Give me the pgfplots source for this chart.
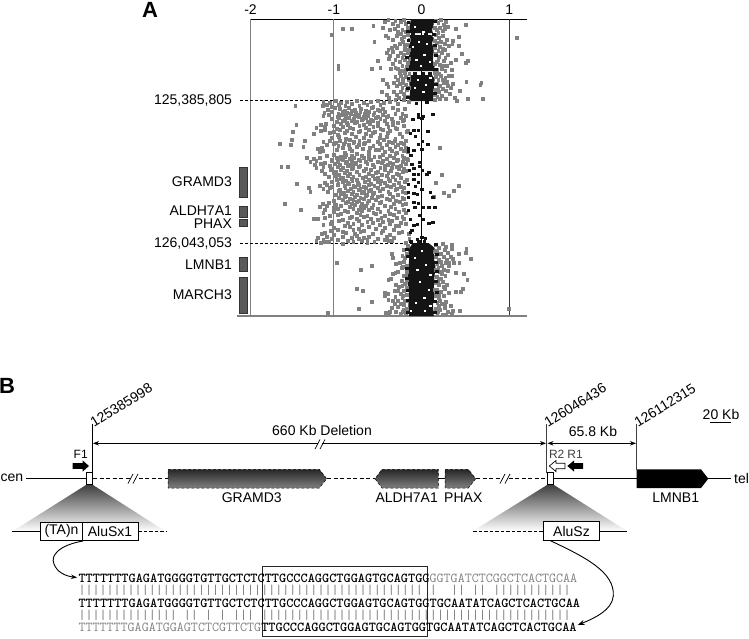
\documentclass[border=0pt]{standalone}
\usepackage{fontspec}
\setmainfont{Liberation Sans}
\usepackage{pgfplots}
\pgfplotsset{compat=1.18}
\usetikzlibrary{arrows.meta}
\newcommand\ft{\fontsize{14}{16}\selectfont}
\newcommand\fs{\fontsize{12}{14}\selectfont}
\newcommand\fq{\ttfamily\fontsize{13.65}{15}\selectfont}
\definecolor{ptgray}{gray}{0.5}
\begin{document}
\begin{tikzpicture}[x=1pt,y=1pt]
\path[use as bounding box] (0,0) rectangle (749pt,638pt);
\begin{axis}[at={(250.5pt,322pt)},anchor=south west,scale only axis,width=276.5pt,height=297pt,
 xmin=-1.95,xmax=1.203,ymin=19,ymax=316,y dir=reverse,clip=false,
 axis x line*=top,axis y line=none,xtick={-1.95,-1,0,1},xticklabels={-2,-1,0,1},
 xticklabel style={font=\ft,yshift=1pt},tick style={draw=none},major tick length=0pt,
 axis line style={black,line width=.8pt}]
% grey points: flanks above the deletion
\addplot[only marks,mark=square*,mark size=1.4pt,color=ptgray,mark options={draw=none}] coordinates {
(-1.02,35)(-.90,29)(-.80,29)(-.95,66)(-.95,69)(1.09,38)(-.54,42)(-.55,26)(-.57,69)(-.47,68)(-.50,61)(.50,25)(.39,29)(.42,37)(.36,41)(.42,46)(.46,54)(.53,61)(.50,63)(.39,60)(.34,70)(.35,76)(.36,84)(.51,82)(.68,83)(.67,85)(.53,99)(.70,99)(.44,91)(.38,98)(.40,101)
(-.42,22)(-.38,20)(-.33,24)(-.30,21)(-.27,26)(-.24,22)(-.20,20)(-.18,24)(-.16,28)(-.44,28)(-.36,30)(-.31,29)(-.22,30)(.16,21)(.19,23)(.22,20)(.25,25)(.28,22)(.21,28)(.17,30)(.30,27)(.24,31)
(-.41,36)(-.38,38)(-.33,40)(-.28,36)(-.24,34)(-.20,37)(-.16,35)(-.25,44)(-.31,46)(-.21,42)(-.17,45)(-.38,50)(-.34,48)(-.19,50)(.16,35)(.20,38)(.24,36)(.29,40)(.26,44)(.17,43)(.21,47)(.31,46)(.35,44)(.19,51)(.27,50)
(-.40,53)(-.36,56)(-.33,52)(-.37,59)(-.30,60)(-.27,56)(-.24,53)(-.20,55)(-.16,53)(-.33,64)(-.30,68)(-.25,62)(-.22,66)(-.19,60)(-.16,63)(-.27,69)(-.18,70)(-.23,71)(.16,54)(.20,57)(.23,53)(.27,58)(.30,55)(.17,62)(.21,65)(.25,61)(.29,66)(.33,63)(.18,70)(.23,69)(.27,71)
(-.30,77)(-.27,80)(-.32,83)(-.24,76)(-.21,79)(-.18,77)(-.15,80)(-.28,86)(-.25,84)(-.22,88)(-.18,85)(-.15,88)(-.40,84)(-.38,87)(-.44,80)(-.45,92)(-.40,95)(-.37,98)(-.32,92)(-.28,95)(-.24,92)(-.20,94)(-.16,97)(-.30,100)(.16,77)(.19,80)(.22,76)(.27,78)(.17,84)(.21,86)(.25,83)(.29,82)(.16,90)(.20,92)(.24,89)(.28,91)(.33,88)(.18,97)(.23,96)(.28,99)(.32,94)(.15,100)(-.20,100)
(-.18,32)(-.27,32)(-.14,40)(-.23,39)(-.19,46)(-.28,48)(-.15,50)(-.22,58)(-.14,59)(-.17,67)(-.25,73)(-.19,73)(-.35,69)(-.21,83)(-.17,90)(-.26,98)(-.19,97)(-.14,74)(.15,28)(.19,33)(.26,29)(.15,41)(.22,42)(.15,48)(.24,49)(.19,60)(.15,64)(.25,66)(.20,74)(.15,73)(.31,76)(.19,88)(.24,80)(.15,95)(.21,99)(.30,86)
};
% grey points: deletion
\addplot[only marks,mark=square*,mark size=1.4pt,color=ptgray,mark options={draw=none}] coordinates {
(-1.44,106)(-1.43,125)(-1.47,132)(-1.48,140)(-1.49,145)(-1.62,144)(-1.33,141)(-1.35,147)(-1.60,167)(-1.53,167)(-1.31,158)(-1.42,184)(-1.56,204)(-1.38,210)(-1.29,188)(-1.27,192)(-1.23,219)(.21,148)(.23,175)(.16,183)(.25,193)(.31,196)(.37,191)(.42,186)(.14,197)
(-1.12,102)(-1.05,103)(-.98,101)(-.92,103)(-.85,102)(-.8,104)(-.74,101)(-.66,103)(-.58,102)(-.5,101)(-.43,103)(-.36,102)(-.27,104)(-.15,102)
(-1.13,106)(-1.08,105)(-1.02,107)(-.94,105)(-.87,106)(-.79,104)(-.71,106)(-.62,105)(-.55,107)(-.47,105)
(-1.07,110)(-.99,108)(-.93,109)(-.88,111)(-.83,108)(-.76,110)(-.69,109)(-.64,111)(-.57,108)(-.5,110)(-.44,109)(-.33,108)(-.27,110)(-.19,109)
(-1.11,113)(-1.02,112)(-.95,114)(-.9,112)(-.85,113)(-.8,111)(-.75,113)(-.7,112)(-.65,114)(-.6,112)(-.54,113)(-.48,111)(-.42,112)(-.3,114)
(-1.12,116)(-1.06,115)(-.96,117)(-.91,115)(-.86,116)(-.81,114)(-.76,116)(-.71,115)(-.66,117)(-.61,116)(-.55,115)(-.5,117)(-.44,115)(-.38,116)(-.22,114)(-.18,116)
(-1.02,119)(-.94,118)(-.88,120)(-.83,118)(-.77,119)(-.72,117)(-.67,119)(-.63,118)(-.58,120)(-.52,118)(-.47,119)(-.4,117)(-.34,119)(-.24,118)(-.2,120)
(-.97,122)(-.9,121)(-.85,123)(-.8,121)(-.74,122)(-.68,120)(-.62,122)(-.56,121)(-.5,123)(-.42,121)(-.33,122)(-.21,121)
(-1.15,125)(-1.09,124)(-1.0,126)(-.92,124)(-.84,125)(-.76,123)(-.66,125)(-.59,124)(-.5,126)(-.4,124)(-.33,125)(-.27,123)
(-1.2,128)(-1.1,127)(-.97,129)(-.9,127)(-.82,128)(-.71,126)(-.64,128)(-.55,127)(-.47,129)(-.38,127)(-.3,128)(-.2,126)
(-1.15,131)(-1.1,130)(-1.0,132)(-.93,130)(-.85,131)(-.78,129)(-.7,131)(-.6,130)(-.53,132)(-.44,130)(-.36,131)(-.28,129)(-.16,131)
(-1.23,134)(-1.05,133)(-.96,135)(-.88,133)(-.8,134)(-.72,132)(-.64,134)(-.56,133)(-.47,135)(-.39,133)(-.25,134)(-.17,132)
(-1.02,138)(-.94,137)(-.86,139)(-.75,137)(-.66,138)(-.58,136)(-.48,138)(-.4,137)(-.3,139)(-.22,137)
(-1.12,142)(-1.05,141)(-.98,143)(-.93,141)(-.87,142)(-.82,140)(-.77,142)(-.71,141)(-.65,143)(-.6,141)(-.5,142)(-.43,140)(-.37,142)(-.31,141)(-.24,143)(-.18,141)
(-1.08,145)(-1.0,144)(-.95,146)(-.89,144)(-.83,145)(-.78,143)(-.72,145)(-.66,144)(-.55,146)(-.48,144)(-.4,145)(-.33,143)(-.27,145)(-.2,144)
(-1.18,149)(-1.14,148)(-.97,150)(-.9,148)(-.82,149)(-.74,147)(-.67,149)(-.59,148)(-.49,150)(-.45,148)(-.36,149)(-.3,147)(-.24,149)(-.18,148)
(-1.16,152)(-1.12,151)(-.88,153)(-.8,151)(-.6,152)(-.52,150)(-.42,152)(-.34,151)(-.28,153)(-.2,151)(-.16,152)
(-1.08,156)(-1.0,155)(-.92,157)(-.86,155)(-.8,156)(-.74,154)(-.68,156)(-.6,155)(-.54,157)(-.44,155)(-.36,156)(-.3,154)(-.22,156)
(-1.23,159)(-1.16,158)(-1.02,160)(-.97,158)(-.93,159)(-.88,157)(-.82,159)(-.77,158)(-.72,160)(-.66,158)(-.6,159)(-.48,157)(-.4,159)(-.32,158)(-.27,160)(-.2,158)(-.17,159)
(-1.27,162)(-1.2,161)(-1.1,163)(-1.03,161)(-.96,162)(-.9,160)(-.85,162)(-.8,161)(-.75,163)(-.7,161)(-.64,162)(-.58,160)(-.5,162)(-.44,161)(-.36,163)(-.28,161)(-.21,162)(-.16,160)
(-1.22,165)(-1.15,164)(-1.05,166)(-.99,164)(-.93,165)(-.87,163)(-.81,165)(-.76,164)(-.7,166)(-.62,164)(-.56,165)(-.45,163)(-.39,165)(-.33,164)(-.24,166)(-.18,164)
(-1.2,168)(-1.12,167)(-1.02,169)(-.96,167)(-.9,168)(-.84,166)(-.78,168)(-.72,167)(-.64,169)(-.54,167)(-.47,168)(-.42,166)(-.34,168)(-.28,167)(-.2,169)
(-1.14,171)(-1.04,170)(-.98,172)(-.92,170)(-.85,171)(-.8,169)(-.66,171)(-.58,170)(-.5,172)(-.42,170)(-.35,171)(-.26,169)(-.18,171)
(-1.1,174)(-1.0,173)(-.94,175)(-.88,173)(-.82,174)(-.74,172)(-.6,174)(-.52,173)(-.45,175)(-.38,173)(-.28,174)(-.21,172)
(-1.06,177)(-.98,176)(-.9,178)(-.84,176)(-.78,177)(-.71,175)(-.64,177)(-.56,176)(-.5,178)(-.4,176)(-.33,177)(-.26,175)
(-.97,180)(-.92,179)(-.86,181)(-.8,179)(-.74,180)(-.67,178)(-.6,180)(-.54,179)(-.46,181)(-.38,179)(-.3,180)(-.24,178)(-.17,180)
(-1.1,183)(-1.02,182)(-.95,184)(-.9,182)(-.84,183)(-.79,181)(-.73,183)(-.65,182)(-.58,184)(-.5,182)(-.42,183)(-.36,181)(-.26,183)(-.19,182)
(-1.16,186)(-1.08,185)(-1.02,187)(-.96,185)(-.88,186)(-.83,184)(-.78,186)(-.72,185)(-.66,187)(-.6,185)(-.54,186)(-.47,184)(-.4,186)(-.32,185)(-.24,187)
(-1.12,189)(-1.05,188)(-.93,190)(-.87,188)(-.81,189)(-.76,187)(-.7,189)(-.64,188)(-.58,190)(-.5,188)(-.44,189)(-.35,187)(-.28,189)(-.2,188)
(-1.07,192)(-.95,191)(-.89,193)(-.84,191)(-.78,192)(-.72,190)(-.66,192)(-.6,191)(-.54,193)(-.48,191)(-.38,192)(-.3,190)(-.22,192)
(-.98,195)(-.92,194)(-.86,196)(-.8,194)(-.74,195)(-.68,193)(-.62,195)(-.56,194)(-.45,196)(-.36,194)(-.27,195)(-.18,193)
(-.94,198)(-.88,197)(-.82,199)(-.76,197)(-.7,198)(-.64,196)(-.57,198)(-.5,197)(-.4,199)(-.33,197)(-.22,198)
(-1.0,201)(-.9,200)(-.84,202)(-.78,200)(-.72,201)(-.66,199)(-.6,201)(-.52,200)(-.46,202)(-.36,200)(-.29,201)(-.2,199)
(-1.13,204)(-1.06,203)(-.98,205)(-.86,203)(-.8,204)(-.74,202)(-.68,204)(-.62,203)(-.55,205)(-.48,203)(-.32,204)(-.25,202)(-.18,204)
(-1.16,207)(-1.08,206)(-1.0,208)(-.92,206)(-.82,207)(-.76,205)(-.7,207)(-.64,206)(-.57,208)(-.42,206)(-.35,207)(-.22,205)
(-1.1,210)(-.96,209)(-.88,211)(-.78,209)(-.72,210)(-.66,208)(-.6,210)(-.5,209)(-.38,211)(-.3,209)(-.2,210)
(-1.12,213)(-1.0,212)(-.92,214)(-.84,212)(-.74,213)(-.68,211)(-.55,213)(-.47,212)(-.36,214)(-.26,212)(-.18,213)
(-1.05,216)(-.96,215)(-.8,217)(-.7,215)(-.62,216)(-.52,214)(-.42,216)(-.32,215)(-.22,217)
(-1.18,219)(-1.1,218)(-.9,220)(-.82,218)(-.74,219)(-.66,217)(-.58,219)(-.46,218)(-.38,220)(-.28,218)(-.2,219)
(-1.02,222)(-.94,221)(-.84,223)(-.72,221)(-.62,222)(-.5,220)(-.44,222)(-.34,221)(-.24,223)
(-1.12,225)(-1.04,224)(-.88,226)(-.78,224)(-.68,225)(-.56,223)(-.48,225)(-.36,224)(-.3,226)(-.18,224)
(-1.0,228)(-.82,227)(-.72,229)(-.6,227)(-.42,228)(-.26,226)
(-1.04,231)(-.96,230)(-.9,232)(-.78,230)(-.66,231)(-.52,229)(-.44,231)(-.32,230)(-.22,232)
(-1.14,234)(-1.1,233)(-1.0,235)(-.86,233)(-.76,234)(-.7,232)(-.56,234)(-.46,233)(-.36,235)(-.26,233)(-.15,234)
(-1.18,238)(-1.08,237)(-1.02,239)(-.9,237)(-.8,238)(-.74,236)(-.66,238)(-.6,237)(-.5,239)(-.4,237)(-.32,238)
(-1.2,241)(-1.12,240)(-1.06,242)(-.96,240)(-.84,241)(-.72,239)(-.68,241)(-.62,240)(-.54,242)(-.42,240)(-.34,241)(-.14,239)
(-1.15,243)(-1.1,242)(-.9,244)(-.78,242)(-.62,243)(-.38,241)(-.18,243)
};
% grey points: flanks below the deletion
\addplot[only marks,mark=square*,mark size=1.4pt,color=ptgray,mark options={draw=none}] coordinates {
(-.97,263)(-.69,270)(-.57,266)(-.74,289)(-.67,291)(-.57,302)(-.72,309)(.99,309)(-1.07,313)(.51,249)(.50,253)(.56,259)(.42,254)(.43,263)(.37,263)(.39,273)(.48,274)(.52,280)(.39,292)(.45,292)(.47,289)(.36,311)(.44,311)(.34,245)(.31,263)
(.16,245)(.20,248)(.24,244)(.28,247)(.17,251)(.22,254)(.26,250)(.30,253)(.34,249)(.16,257)(.20,260)(.25,257)(.29,260)(.33,257)(.18,264)(.23,266)(.27,263)(.31,266)(.36,259)(.16,270)(.21,272)(.25,270)(.30,271)(.17,277)(.22,279)(.27,276)(.16,283)(.20,285)(.24,282)(.29,285)(.17,290)(.22,292)(.26,289)(.31,293)(.16,296)(.20,298)(.25,296)(.18,303)(.23,304)(.28,302)(.16,309)(.21,310)(.26,308)(.30,312)(.18,314)(.24,315)(.28,315)(.20,306)(.33,306)
(-.16,246)(-.20,250)(-.17,254)(-.22,256)(-.34,254)(-.33,258)(-.20,262)(-.17,266)(-.29,264)(-.25,263)(-.23,268)(-.17,272)(-.27,272)(-.33,274)(-.30,273)(-.20,276)(-.17,280)(-.38,280)(-.35,279)(-.22,286)(-.17,288)(-.26,287)(-.29,285)(-.20,291)(-.17,295)(-.24,294)(-.27,291)(-.31,291)(-.42,293)(-.42,296)(-.38,294)(-.30,297)(-.22,298)(-.17,301)(-.38,300)(-.33,301)(-.27,301)(-.24,304)(-.20,305)(-.31,304)(-.17,309)(-.34,308)(-.36,312)(-.41,313)(-.37,314)(-.22,312)(-.18,314)(-.24,314)
(-.19,258)(-.21,267)(-.18,276)(-.19,284)(-.23,281)(-.21,296)(-.19,301)(-.27,307)(-.20,310)(-.29,312)(.19,268)(.23,274)(.19,281)(.20,294)(.25,287)(.21,301)(.27,306)(.19,312)(.34,314)(.22,262)(.15,252)(.15,290)
};
% vertical reference lines
\addplot[color=gray,line width=1pt] coordinates {(-1.95,19)(-1.95,316)};
\addplot[color=gray,line width=1pt] coordinates {(-1,19)(-1,316)};
\addplot[color=black,line width=.7pt] coordinates {(0,19)(0,316)};
\addplot[color=black!80,line width=.8pt] coordinates {(1,19)(1,316)};
\addplot[color=gray,line width=1.2pt] coordinates {(-2.1,316)(1.203,316)};
% breakpoints
\addplot[black,line width=.6pt,densely dashed] coordinates {(-2.07,100.5)(-.13,100.5)};
\addplot[black,line width=.6pt,densely dashed] coordinates {(-2.07,243.5)(-.10,243.5)};
% dense black bands
\addplot[fill=black!92,draw=none] coordinates {(-.12,19)(.13,19)(.14,24)(.12,30)(.13,33)(-.13,33)(-.14,28)} --cycle;
\addplot[fill=black!92,draw=none] coordinates {(-.13,35)(.11,35)(.14,38)(.12,43)(.14,50)(.13,60)(.15,66)(.14,71)(-.14,71)(-.15,64)(-.14,55)(-.15,48)(-.13,42)} --cycle;
\addplot[fill=black!92,draw=none] coordinates {(-.12,75)(.12,75)(.15,79)(.14,88)(.13,96)(.14,101)(-.14,101)(-.13,92)(-.14,82)} --cycle;
\addplot[fill=black!92,draw=none] coordinates {(-.1,243)(.08,243)(.15,248)(.14,258)(.16,266)(.15,275)(.14,285)(.15,295)(.13,305)(.14,316)(-.14,316)(-.15,305)(-.14,295)(-.16,283)(-.15,270)(-.14,258)(-.15,250)} --cycle;
% black points in the deletion and at the band edges
\addplot[only marks,mark=square*,mark size=1.3pt,color=black!92,mark options={draw=none}] coordinates {
(-.04,114)(.02,116)(.13,114)(-.04,117)(0,118)(-.10,119)(-.09,130)(-.13,133)(-.04,130)(.07,131)(-.07,136)(-.04,144)(.01,141)(.07,144)(-.15,148)(-.09,150)(0,149)(-.15,151)(-.12,155)(-.02,162)(-.02,166)(-.11,164)(-.09,168)(-.14,170)(.01,170)(.08,172)
(-.09,174)(-.04,174)(.06,174)(-.09,179)(-.04,182)(-.15,184)(-.07,186)(0,189)(-.15,192)(-.09,193)(-.05,194)(.10,192)(.13,197)(-.15,197)(-.09,202)(-.04,203)(-.08,207)(.02,207)(.08,207)(.15,207)(-.15,210)(-.02,215)(-.13,219)(.02,219)(-.05,224)(.08,223)(.13,222)(-.09,225)(-.11,230)(-.13,232)(0,237)(-.05,239)(.04,238)
(.16,244)(-.17,249)(-.12,241)(-.03,241)(.03,241)(.16,262)
(-.15,22)(.15,21)(-.16,31)(.14,34)(-.10,34)(.05,34)(-.15,40)(.15,45)(-.17,57)(.16,55)(-.16,69)(.16,69)(-.08,73)(.02,73)(.09,73)(-.15,78)(.16,84)(-.16,88)(.15,93)(-.16,97)(.06,102)(-.06,103)
(-.16,256)(.17,254)(-.17,268)(.17,271)(-.17,278)(.16,281)(-.16,290)(.17,292)(-.16,300)(.15,301)(-.16,312)(.15,312)
};
% white gaps in the dense bands
\addplot[only marks,mark=square*,mark size=.6pt,color=white,mark options={draw=none}] coordinates {
(-.08,27)(.02,32)(-.03,42)(.06,44)(-.1,47)(.03,55)(-.06,60)(.09,62)(-.01,66)(.05,85)(-.08,88)(.02,92)(-.04,80)(.1,78)(-.08,258)(0,251)(.05,265)(-.05,270)(.1,275)(-.02,282)(.08,290)(.03,298)(-.07,303)(.1,306)(-.12,311)(.04,311)
};
% gene bars
\addplot[fill=black!65,draw=black!80,line width=.4pt] coordinates {(-2.078,167.3)(-1.986,167.3)(-1.986,196.7)(-2.078,196.7)} --cycle;
\addplot[fill=black!65,draw=black!80,line width=.4pt] coordinates {(-2.078,206)(-1.986,206)(-1.986,217.5)(-2.078,217.5)} --cycle;
\addplot[fill=black!65,draw=black!80,line width=.4pt] coordinates {(-2.078,218.7)(-1.986,218.7)(-1.986,226)(-2.078,226)} --cycle;
\addplot[fill=black!65,draw=black!80,line width=.4pt] coordinates {(-2.078,256.7)(-1.986,256.7)(-1.986,271)(-2.078,271)} --cycle;
\addplot[fill=black!65,draw=black!80,line width=.4pt] coordinates {(-2.078,276.7)(-1.986,276.7)(-1.986,312.7)(-2.078,312.7)} --cycle;
\begin{scope}[every node/.style={anchor=east,font=\ft,inner sep=0pt}]
\node at (axis cs:-2.16,100.5) {125,385,805};
\node at (axis cs:-2.16,243.5) {126,043,053};
\node at (axis cs:-2.16,181.5) {GRAMD3};
\node at (axis cs:-2.16,211) {ALDH7A1};
\node at (axis cs:-2.16,224) {PHAX};
\node at (axis cs:-2.16,265) {LMNB1};
\node at (axis cs:-2.16,295) {MARCH3};
\end{scope}
\end{axis}
% ---- panel B, full page in picture units ----
\begin{axis}[at={(0pt,0pt)},anchor=south west,scale only axis,width=749pt,height=638pt,
 xmin=0,xmax=749,ymin=0,ymax=638,y dir=reverse,clip=false,hide axis]
\node[font=\fontsize{22}{24}\bfseries] at (axis cs:150,10) {A};
\node[font=\fontsize{22}{24}\bfseries] at (axis cs:7,386) {B};
% triangles
\shade[top color=black!75,bottom color=white] (axis cs:86,485)--(axis cs:93,485)--(axis cs:165,531)--(axis cs:13,531)--cycle;
\shade[top color=black!75,bottom color=white] (axis cs:547,485)--(axis cs:554,485)--(axis cs:627,531)--(axis cs:473,531)--cycle;
% chromosome
\draw[line width=.9pt] (axis cs:26,478.7)--(axis cs:86,478.7);
\draw[line width=.8pt,dash pattern=on 4pt off 2.5pt] (axis cs:93,478.7)--(axis cs:168,478.7);
\draw[line width=.8pt,dash pattern=on 4pt off 2.5pt] (axis cs:327,478.7)--(axis cs:375,478.7);
\draw[line width=.8pt] (axis cs:438,478.7)--(axis cs:445,478.7);
\draw[line width=.8pt,dash pattern=on 4pt off 2.5pt] (axis cs:476,478.7)--(axis cs:547,478.7);
\draw[line width=.9pt] (axis cs:554,478.7)--(axis cs:637,478.7);
\draw[line width=.9pt] (axis cs:708,478.7)--(axis cs:731,478.7);
\fill[white] (axis cs:131,475)rectangle(axis cs:135,483);
\draw[line width=.7pt] (axis cs:128,483.5)--(axis cs:133,474);
\draw[line width=.7pt] (axis cs:133,483.5)--(axis cs:138,474);
\fill[white] (axis cs:503,475)rectangle(axis cs:507,483);
\draw[line width=.7pt] (axis cs:500,483.5)--(axis cs:505,474);
\draw[line width=.7pt] (axis cs:505,483.5)--(axis cs:510,474);
% genes
\shade[top color=black!85,bottom color=black!50] (axis cs:168,469.3)--(axis cs:319.3,469.3)--(axis cs:326.7,478.7)--(axis cs:319.3,488)--(axis cs:168,488)--cycle;
\draw[line width=.5pt,densely dashed] (axis cs:168,469.3)--(axis cs:319.3,469.3)--(axis cs:326.7,478.7)--(axis cs:319.3,488)--(axis cs:168,488)--cycle;
\shade[top color=black!85,bottom color=black!50] (axis cs:382,469.3)--(axis cs:438.3,469.3)--(axis cs:438.3,488)--(axis cs:382,488)--(axis cs:375,478.7)--cycle;
\draw[line width=.5pt,densely dashed] (axis cs:382,469.3)--(axis cs:438.3,469.3)--(axis cs:438.3,488)--(axis cs:382,488)--(axis cs:375,478.7)--cycle;
\shade[top color=black!85,bottom color=black!50] (axis cs:445,469.3)--(axis cs:468.3,469.3)--(axis cs:475.7,478.7)--(axis cs:468.3,488)--(axis cs:445,488)--cycle;
\draw[line width=.5pt,densely dashed] (axis cs:445,469.3)--(axis cs:468.3,469.3)--(axis cs:475.7,478.7)--(axis cs:468.3,488)--(axis cs:445,488)--cycle;
\fill[black] (axis cs:636.7,469.3)--(axis cs:701,469.3)--(axis cs:708.3,478.7)--(axis cs:701,488)--(axis cs:636.7,488)--cycle;
% verticals and spans
\draw[line width=.9pt] (axis cs:92.5,424)--(axis cs:92.5,473);
\draw[line width=.9pt,black!75] (axis cs:546.7,424)--(axis cs:546.7,473);
\draw[line width=.9pt,black!75] (axis cs:636.7,424)--(axis cs:636.7,470);
\draw[line width=.8pt,{Stealth[length=6pt,width=4.5pt]}-{Stealth[length=6pt,width=4.5pt]}] (axis cs:93,443.3)--(axis cs:546,443.3);
\draw[line width=.8pt,{Stealth[length=6pt,width=4.5pt]}-{Stealth[length=6pt,width=4.5pt]}] (axis cs:547.5,443.3)--(axis cs:636,443.3);
\fill[white] (axis cs:318,440)rectangle(axis cs:322,447);
\draw[line width=.7pt] (axis cs:315,449)--(axis cs:320,439.5);
\draw[line width=.7pt] (axis cs:320,449)--(axis cs:325,439.5);
\draw[line width=1.6pt] (axis cs:710,422.3)--(axis cs:731,422.3);
% junction boxes
\draw[fill=white,line width=.7pt] (axis cs:86.3,472.7) rectangle (axis cs:92.7,484.7);
\draw[fill=white,line width=.7pt] (axis cs:547.3,472.7) rectangle (axis cs:553.7,484.7);
% primers
\fill[black] (axis cs:72.7,463.2)--(axis cs:82.7,463.2)--(axis cs:82.7,460.5)--(axis cs:89,466)--(axis cs:82.7,471.5)--(axis cs:82.7,468.8)--(axis cs:72.7,468.8)--cycle;
\fill[black] (axis cs:583,463.2)--(axis cs:574,463.2)--(axis cs:574,460.5)--(axis cs:567.3,466)--(axis cs:574,471.5)--(axis cs:574,468.8)--(axis cs:583,468.8)--cycle;
\draw[fill=white,line width=.7pt] (axis cs:565,463.2)--(axis cs:556,463.2)--(axis cs:556,460.5)--(axis cs:549.3,466)--(axis cs:556,471.5)--(axis cs:556,468.8)--(axis cs:565,468.8)--cycle;
% lower tracks
\draw[line width=.9pt] (axis cs:12.3,531)--(axis cs:40.7,531);
\draw[line width=.8pt,dash pattern=on 3.5pt off 2pt] (axis cs:138,531)--(axis cs:166,531);
\draw[line width=.8pt,dash pattern=on 3.5pt off 2pt] (axis cs:473.3,531)--(axis cs:543.3,531);
\draw[line width=.9pt] (axis cs:599.7,531)--(axis cs:626.7,531);
\draw[fill=white,line width=.8pt] (axis cs:40.7,522.7) rectangle (axis cs:82.3,540.7);
\draw[fill=white,line width=.8pt] (axis cs:82.3,522.7) rectangle (axis cs:138,540.7);
\draw[fill=white,line width=.8pt] (axis cs:543.3,521.7) rectangle (axis cs:599.7,540.3);
\draw[line width=.9pt,-{Stealth[length=6pt,width=4.5pt]}] (axis cs:83,541) .. controls (axis cs:60,545) and (axis cs:50,555) .. (axis cs:54,564) .. controls (axis cs:57,572) and (axis cs:65,576) .. (axis cs:77,577.5);
\draw[line width=.9pt,-{Stealth[length=7pt,width=5pt]}] (axis cs:550,540.5) .. controls (axis cs:585,557) and (axis cs:615,572) .. (axis cs:613.3,596) .. controls (axis cs:612,610) and (axis cs:595,618) .. (axis cs:577.7,625);
% alignment box
\draw[line width=.9pt,black!85] (axis cs:262.7,566.7) rectangle (axis cs:427.3,636.7);
% text
\begin{scope}[every node/.style={font=\ft,inner sep=0pt}]
\node[anchor=base west,rotate=32] at (axis cs:94,428) {125385998};
\node[anchor=base west,rotate=32] at (axis cs:548,428) {126046436};
\node[anchor=base west,rotate=32] at (axis cs:638,428) {126112315};
\node at (axis cs:322,430) {660 Kb Deletion};
\node at (axis cs:593,431) {65.8 Kb};
\node at (axis cs:721,414) {20 Kb};
\node at (axis cs:12,478) {cen};
\node at (axis cs:741.5,478) {tel};
\node at (axis cs:251.7,497.7) {GRAMD3};
\node at (axis cs:406.7,497.7) {ALDH7A1};
\node at (axis cs:463.3,497.7) {PHAX};
\node at (axis cs:675.7,497.7) {LMNB1};
\node at (axis cs:61.5,531) {(TA)n};
\node at (axis cs:110,531.5) {AluSx1};
\node at (axis cs:571.5,531) {AluSz};
\node[font=\fs] at (axis cs:80.7,454) {F1};
\node[font=\fs,black!75] at (axis cs:556.7,454) {R2};
\node[font=\fs,black!75] at (axis cs:575,454) {R1};
\end{scope}
\begin{scope}[every node/.style={anchor=base west,inner sep=0pt,font=\fq}]
\node at (axis cs:78.3,582) {\textbf{TTTTTTTGAGATGGGGTGTTGCTCTCTTGCCCAGGCTGGAGTGCAGTGG}\textcolor{black!50}{GGTGATCTCGGCTCACTGCAA}};
\node[black!55] at (axis cs:78.3,594) {|||||||||||||||||||||||||||||||||||||||||||||||||~|~~||~||~|||||||||||};
\node at (axis cs:78.3,607) {\textbf{TTTTTTTGAGATGGGGTGTTGCTCTCTTGCCCAGGCTGGAGTGCAGTGGTGCAATATCAGCTCACTGCAA}};
\node[black!55] at (axis cs:78.3,619) {||||||||||||||~||~|~|~|||~||||||||||||||||||||||||||||||||||||||||||||};
\node at (axis cs:78.3,631) {\textcolor{black!50}{TTTTTTTGAGATGGAGTCTCGTTCTG}\textbf{TTGCCCAGGCTGGAGTGCAGTGGTGCAATATCAGCTCACTGCAA}};
\end{scope}
\end{axis}
\end{tikzpicture}
\end{document}
